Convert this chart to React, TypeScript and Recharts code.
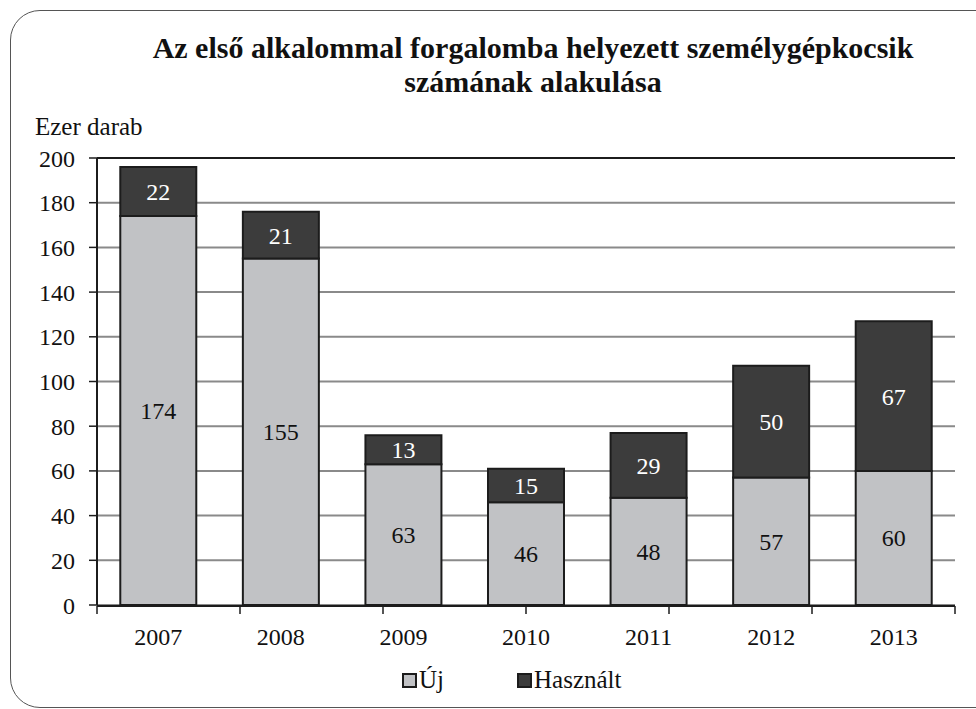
import React from 'react';
import { BarChart, Bar, XAxis, YAxis, CartesianGrid, LabelList, ReferenceLine } from 'recharts';

const years = ['2007', '2008', '2009', '2010', '2011', '2012', '2013'];
const newCars = [174, 155, 63, 46, 48, 57, 60];
const usedCars = [22, 21, 13, 15, 29, 50, 67];
const yTicks = [0, 20, 40, 60, 80, 100, 120, 140, 160, 180, 200];
const boundaryTicks = [0, 1, 2, 3, 4, 5, 6, 7];
const seriesNames = ['Új', 'Használt'];

const FONT = '"Liberation Serif", "Times New Roman", serif';
const LIGHT = '#c1c2c5';
const DARK = '#3c3c3c';
const EDGE = '#1c1c1c';

export default function App() {
  const data = years.map((year, i) => ({ year, uj: newCars[i], hasznalt: usedCars[i] }));

  return (
    <div style={{ position: 'absolute', left: 0, top: 0, width: 976, height: 709, background: '#fff', fontFamily: FONT, overflow: 'hidden' }}>
      <div
        style={{
          position: 'absolute', left: 10, top: 10, width: 1000, height: 698,
          border: '1.5px solid #555', borderRadius: 30, boxSizing: 'border-box',
        }}
      />
      <div style={{ position: 'absolute', left: 0, top: 31, width: 1066, textAlign: 'center', fontWeight: 'bold', fontSize: 30, lineHeight: '34px', color: '#111' }}>
        Az első alkalommal forgalomba helyezett személygépkocsik
        <br />
        számának alakulása
      </div>
      <div style={{ position: 'absolute', left: 35, top: 113, fontSize: 25, color: '#111' }}>Ezer darab</div>

      <div style={{ position: 'absolute', left: 0, top: 0 }}>
        <BarChart
          width={976}
          height={709}
          data={data}
          margin={{ top: 158, right: 21, left: 0, bottom: 95 }}
          barCategoryGap="19%"
        >
          <CartesianGrid vertical={false} stroke="#8a8a8a" strokeWidth={2} />
          <XAxis
            xAxisId="cat"
            dataKey="year"
            axisLine={false}
            tickLine={false}
            height={1}
            tickMargin={17}
            tick={{ fill: '#111', fontSize: 24, fontFamily: FONT }}
          />
          <XAxis
            xAxisId="n"
            type="number"
            domain={[0, 7]}
            ticks={boundaryTicks}
            allowDataOverflow
            height={8}
            axisLine={{ stroke: EDGE, strokeWidth: 2 }}
            tickLine={{ stroke: EDGE, strokeWidth: 1.5 }}
            tickSize={8}
            tickFormatter={() => ''}
          />
          <YAxis
            domain={[0, 200]}
            ticks={yTicks}
            width={97}
            interval={0}
            axisLine={{ stroke: EDGE, strokeWidth: 2 }}
            tickLine={{ stroke: EDGE, strokeWidth: 1.5 }}
            tickSize={8}
            tickMargin={14}
            tick={{ fill: '#111', fontSize: 24, fontFamily: FONT }}
          />
          <ReferenceLine y={200} xAxisId="n" stroke={EDGE} strokeWidth={2} />
          <ReferenceLine x={7} xAxisId="n" stroke={EDGE} strokeWidth={2} />
          <Bar dataKey="uj" name={seriesNames[0]} stackId="a" xAxisId="cat" fill={LIGHT} stroke={EDGE} strokeWidth={2} isAnimationActive={false}>
            <LabelList dataKey="uj" position="center" fill="#111" fontSize={24} fontFamily={FONT} />
          </Bar>
          <Bar dataKey="hasznalt" name={seriesNames[1]} stackId="a" xAxisId="cat" fill={DARK} stroke={EDGE} strokeWidth={2} isAnimationActive={false}>
            <LabelList dataKey="hasznalt" position="center" fill="#fff" fontSize={24} fontFamily={FONT} />
          </Bar>
        </BarChart>
      </div>

      <div style={{ position: 'absolute', left: 402, top: 665, display: 'flex', alignItems: 'center', fontSize: 25, lineHeight: '30px', color: '#111' }}>
        {seriesNames.map((name, i) => (
          <div key={name} style={{ display: 'flex', alignItems: 'center', marginRight: i === 0 ? 73 : 0 }}>
            <span style={{ display: 'inline-block', width: 11, height: 11, background: i === 0 ? LIGHT : DARK, border: `2px solid ${EDGE}`, marginRight: 2 }} />
            {name}
          </div>
        ))}
      </div>
    </div>
  );
}
